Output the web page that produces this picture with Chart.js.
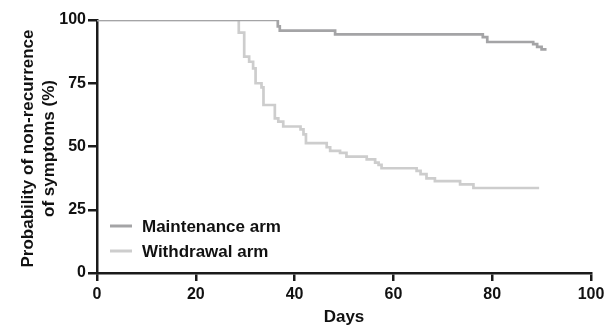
<!DOCTYPE html>
<html>
<head>
<meta charset="utf-8">
<script src="https://cdn.jsdelivr.net/npm/chart.js@4/dist/chart.umd.min.js"></script>
<style>
  html, body { margin: 0; padding: 0; background: #fff; }
  #wrap { width: 604px; height: 327px; }
</style>
</head>
<body>
<div id="wrap"><canvas id="km"></canvas></div>
<script>
// Kaplan-Meier steps: day of drop, survival after the drop (%)
var maintenanceDays = [0, 36.6, 37.0, 48.2, 78.1, 79.0, 88.3, 89.1, 90.0, 91.0];
var maintenanceVals = [100, 97.5, 95.8, 94.3, 93.2, 91.3, 90.5, 89.4, 88.4, 88.4];

var withdrawalDays = [0, 28.7, 29.8, 30.8, 31.6, 32.1, 33.3, 33.7, 36.0, 36.7, 37.7, 41.2, 41.8, 42.3,
    46.5, 47.2, 49.2, 50.5, 54.6, 56.3, 57.0, 57.6, 64.7, 65.5, 66.7, 68.4, 73.5, 76.2, 89.5];
var withdrawalVals = [100, 95.0, 85.5, 83.5, 80.9, 75.0, 73.4, 66.4, 61.1, 59.8, 57.9, 56.8, 54.8, 51.3,
    49.7, 48.3, 47.5, 46.0, 44.9, 43.6, 42.7, 41.4, 40.4, 39.1, 37.4, 36.3, 35.0, 33.6, 33.6];

var xTicks = [0, 20, 40, 60, 80, 100];
var yTicks = [0, 25, 50, 75, 100];
var yTitle = ['Probability of non-recurrence', 'of symptoms (%)'];

function toPoints(days, vals) {
    return days.map(function (d, i) { return { x: d, y: vals[i] }; });
}

var family = 'Liberation Sans, Arial, sans-serif';
var tickFont = { family: family, size: 16, weight: 'bold' };

// y title (two rotated lines) and the legend inside the plot
var extras = {
    id: 'extras',
    afterDraw: function (chart) {
        var ctx = chart.ctx;
        var area = chart.chartArea;
        ctx.save();
        ctx.fillStyle = '#111';
        ctx.font = 'bold 17px ' + family;
        ctx.textAlign = 'center';
        ctx.textBaseline = 'alphabetic';
        var midY = (area.top + area.bottom) / 2 + 2;
        yTitle.forEach(function (line, i) {
            ctx.save();
            ctx.translate(33 + i * 21, midY);
            ctx.rotate(-Math.PI / 2);
            ctx.fillText(line, 0, 0);
            ctx.restore();
        });

        var rows = [226, 251];
        ctx.textAlign = 'left';
        ctx.textBaseline = 'middle';
        chart.data.datasets.forEach(function (ds, i) {
            ctx.strokeStyle = ds.borderColor;
            ctx.lineWidth = 3;
            ctx.beginPath();
            ctx.moveTo(area.left + 13, rows[i]);
            ctx.lineTo(area.left + 35, rows[i]);
            ctx.stroke();
            ctx.fillText(ds.label, area.left + 45, rows[i] + 1);
        });
        ctx.restore();
    }
};

new Chart(document.getElementById('km'), {
    type: 'line',
    data: {
        datasets: [{
            label: 'Maintenance arm',
            data: toPoints(maintenanceDays, maintenanceVals),
            borderColor: '#a4a4a6',
            borderWidth: 2.7,
            pointRadius: 0,
            stepped: true,
            fill: false
        }, {
            label: 'Withdrawal arm',
            data: toPoints(withdrawalDays, withdrawalVals),
            borderColor: '#cdcdcd',
            borderWidth: 2.7,
            pointRadius: 0,
            stepped: true,
            fill: false
        }]
    },
    options: {
        responsive: true,
        maintainAspectRatio: false,
        animation: false,
        layout: { padding: { top: 20, right: 13, left: 0, bottom: 0 } },
        plugins: {
            legend: { display: false },
            tooltip: { enabled: false }
        },
        scales: {
            x: {
                type: 'linear',
                min: 0,
                max: 100,
                afterBuildTicks: function (s) { s.ticks = xTicks.map(function (v) { return { value: v }; }); },
                afterFit: function (s) { s.height = 54; s.paddingLeft = 0; s.paddingRight = 0; },
                border: { color: '#1a1a1a', width: 2.5 },
                grid: { drawOnChartArea: false, color: '#1a1a1a', lineWidth: 2.5, tickLength: 8 },
                ticks: { color: '#111', font: tickFont, padding: 4, maxRotation: 0 },
                title: { display: true, text: 'Days', color: '#111', font: { family: family, size: 17, weight: 'bold' }, padding: { top: 0, bottom: -1 } }
            },
            y: {
                min: 0,
                max: 100,
                afterBuildTicks: function (s) { s.ticks = yTicks.map(function (v) { return { value: v }; }); },
                afterFit: function (s) { s.width = 97; },
                border: { color: '#1a1a1a', width: 2.5 },
                grid: { drawOnChartArea: false, color: '#1a1a1a', lineWidth: 2.5, tickLength: 9 },
                ticks: { color: '#111', font: tickFont, padding: 2 }
            }
        }
    },
    plugins: [extras]
});
</script>
</body>
</html>
